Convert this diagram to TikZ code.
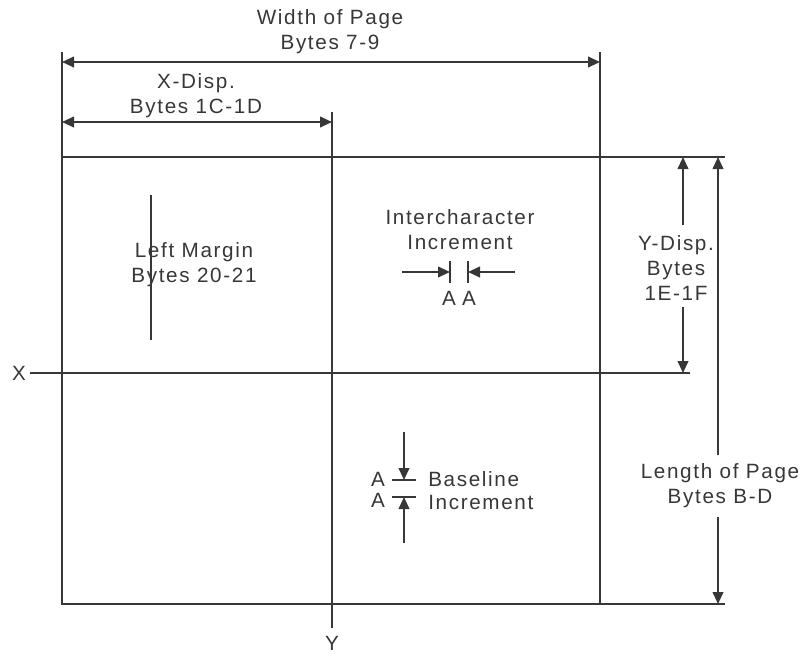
\documentclass[tikz,border=0pt]{standalone}
\usepackage{fontspec}
\setmainfont[LetterSpace=8]{Liberation Sans}
\usepackage{tikz}
\usetikzlibrary{arrows.meta,positioning,calc}
\definecolor{ink}{RGB}{55,55,55}
\tikzset{
  line/.style={ink, line width=1.4pt},
  tip/.style={-{Triangle[length=9pt,width=8pt]}},
  dimtip/.style={{Triangle[length=9pt,width=8pt]}-{Triangle[length=9pt,width=8pt]}},
  label/.style={text=ink, font=\fontsize{15.5}{18.75}\selectfont, align=center, inner sep=0pt}
}

\begin{document}
\begin{tikzpicture}[x=0.75pt, y=-0.75pt]
\useasboundingbox (0,0) rectangle (803,654);

% Page corners
\coordinate (tl) at (62,157);
\coordinate (tr) at (600,157);
\coordinate (bl) at (62,604);
\coordinate (br) at (600,604);

% Page and extension lines
\draw[line] (tl) rectangle (br);
\draw[line] (62,52) -- (tl);
\draw[line] (600,52) -- (tr);
\draw[line] (tr) -- (725,157);
\draw[line] (br) -- (725,604);

% Axes
\node[label] (xlab) at (19,373) {X};
\node[label] (ylab) at (332,643) {Y};
\coordinate (xstart) at (30,373);
\coordinate (xend) at (690,373);
\coordinate (ytop) at (332,112);
\coordinate (ybot) at (332,628);
\draw[line] (xstart) -- (xend);
\draw[line] (ytop) -- (ybot);

% Width of page
\node[label] (wlab) at (330,32) {Width of Page\\Bytes 7-9};
\draw[line, dimtip] (62,62) -- (600,62);

% X displacement
\node[label] (xdlab) at (196,96) {X-Disp.\\Bytes 1C-1D};
\draw[line, dimtip] (62,122) -- (332,122);

% Y displacement
\node[label] (ydlab) at (676,268) {Y-Disp.\\Bytes\\1E-1F};
\coordinate (yda) at (683,225);
\coordinate (ydb) at (683,307);
\draw[line, tip] (yda) -- (683,157);
\draw[line, tip] (ydb) -- (683,373);

% Length of page
\node[label] (llab) at (720,486) {Length of Page\\Bytes B-D};
\coordinate (lpa) at (718,455);
\coordinate (lpb) at (718,517);
\draw[line, tip] (lpa) -- (718,157);
\draw[line, tip] (lpb) -- (718,604);

% Left margin
\node[label] (lmlab) at (194,265) {Left Margin\\Bytes 20-21};
\draw[line] (151,195) -- (151,340);

% Intercharacter increment
\node[label] (iclab) at (460,230) {Intercharacter\\Increment};
\coordinate (icl) at (450,272);
\coordinate (icr) at (468,272);
\draw[line] ($(icl)+(0,-11)$) -- ($(icl)+(0,11)$);
\draw[line] ($(icr)+(0,-11)$) -- ($(icr)+(0,11)$);
\draw[line, tip] (402,272) -- (icl);
\draw[line, tip] (515,272) -- (icr);
\node[label] (ica) at (449,298) {A};
\node[label] (icb) at (469,298) {A};

% Baseline increment
\coordinate (bst) at (404,480);
\coordinate (bsb) at (404,497);
\draw[line] ($(bst)+(-12,0)$) -- ($(bst)+(12,0)$);
\draw[line] ($(bsb)+(-12,0)$) -- ($(bsb)+(12,0)$);
\draw[line, tip] (404,432) -- (bst);
\draw[line, tip] (404,543) -- (bsb);
\node[label] (bsa) at (378,479) {A};
\node[label] (bsa2) at (378,500) {A};
\node[label, anchor=west] (bslab) at (428,479) {Baseline};
\node[label, anchor=west] (bslab2) at (428,502) {Increment};
\end{tikzpicture}
\end{document}
